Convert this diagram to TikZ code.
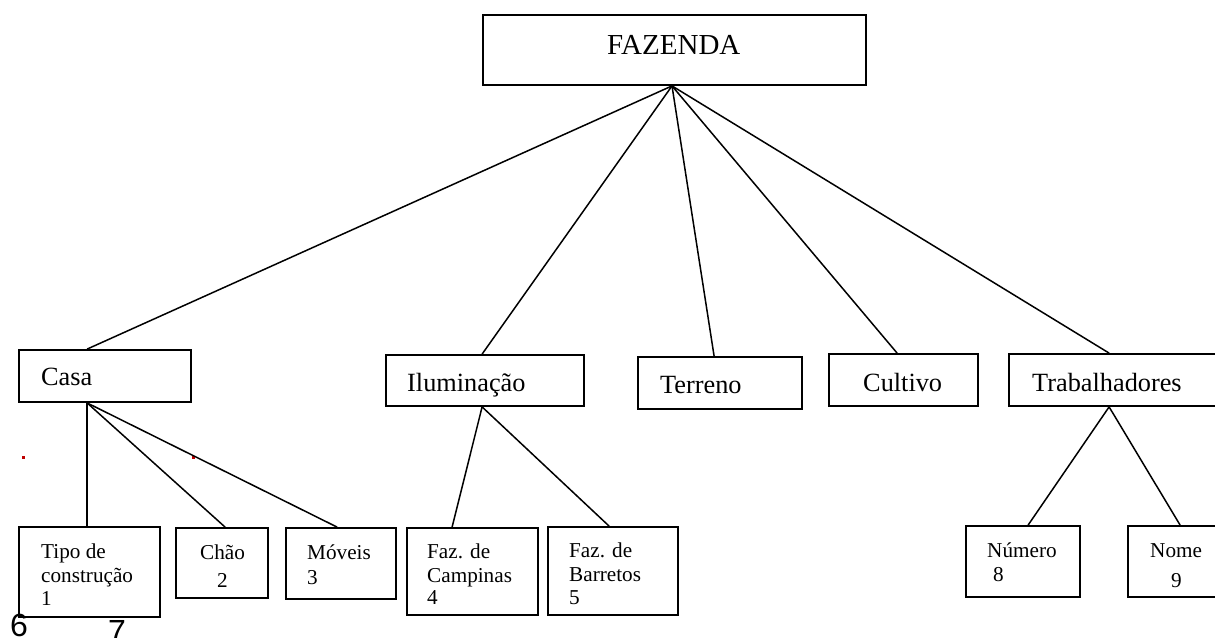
\documentclass[tikz,border=0pt]{standalone}
\usepackage{fontspec}
\setmainfont{Liberation Serif}
\newfontfamily\arialf{Liberation Sans}
\begin{document}
\begin{tikzpicture}[x=1pt,y=-1pt,
  box/.style={draw, line width=1.8pt, rectangle, inner sep=0pt},
  conn/.style={line width=1.5pt},
  big/.style={anchor=base west, inner sep=0pt, font=\fontsize{26.3}{30}\selectfont},
  title/.style={anchor=base west, inner sep=0pt, font=\fontsize{29}{32}\selectfont},
  small/.style={anchor=base west, inner sep=0pt, font=\fontsize{21.2}{24}\selectfont},
  digit/.style={anchor=base west, inner sep=0pt, font=\arialf\fontsize{32}{36}\selectfont},
  reddot/.style={fill=red!75!black, inner sep=0pt, minimum size=3pt, rectangle}
]
\useasboundingbox (0,0) rectangle (1215,637);
\clip (0,0) rectangle (1215,637);
\fill[white] (0,0) rectangle (1215,637);

% boxes
\node[box, minimum width=383pt, minimum height=70pt] (faz) at (674.5,50) {};
\node[box, minimum width=172pt, minimum height=52pt] (casa) at (105,376) {};
\node[box, minimum width=198pt, minimum height=51pt] (ilum) at (485,380.5) {};
\node[box, minimum width=164pt, minimum height=52pt] (terreno) at (720,383) {};
\node[box, minimum width=149pt, minimum height=52pt] (cultivo) at (903.5,380) {};
\node[box, minimum width=216pt, minimum height=52pt] (trab) at (1117,380) {};
\node[box, minimum width=141pt, minimum height=90pt] (tipo) at (89.5,572) {};
\node[box, minimum width=92pt, minimum height=70pt] (chao) at (222,563) {};
\node[box, minimum width=110pt, minimum height=71pt] (moveis) at (341,563.5) {};
\node[box, minimum width=131pt, minimum height=87pt] (camp) at (472.5,571.5) {};
\node[box, minimum width=130pt, minimum height=88pt] (barr) at (613,571) {};
\node[box, minimum width=114pt, minimum height=71pt] (numero) at (1023,561.5) {};
\node[box, minimum width=102pt, minimum height=71pt] (nome) at (1179,561.5) {};

% texts
\node[title] (tfaz) at (607,54) {FAZENDA};
\node[big] (tcasa) at (41,385) {Casa};
\node[big] (tilum) at (407,391) {Iluminação};
\node[big] (tterreno) at (660,393) {Terreno};
\node[big] (tcultivo) at (863,391) {Cultivo};
\node[big] (ttrab) at (1032,391) {Trabalhadores};

\node[small] (ttipo1) at (41,558) {Tipo de};
\node[small] (ttipo2) at (41,582) {construção};
\node[small] (ttipo3) at (41,605) {1};
\node[small] (tchao1) at (200,559) {Chão};
\node[small] (tchao2) at (217,587) {2};
\node[small] (tmov1) at (307,559) {Móveis};
\node[small] (tmov2) at (307,584) {3};
\node[small] (tcamp1) at (427,558) {Faz. de};
\node[small] (tcamp2) at (427,582) {Campinas};
\node[small] (tcamp3) at (427,604) {4};
\node[small] (tbarr1) at (569,557) {Faz. de};
\node[small] (tbarr2) at (569,581) {Barretos};
\node[small] (tbarr3) at (569,604) {5};
\node[small] (tnum1) at (987,557) {Número};
\node[small] (tnum2) at (993,581) {8};
\node[small] (tnome1) at (1150,557) {Nome};
\node[small] (tnome2) at (1171,587) {9};

\node[digit] (six) at (10,636) {6};
\node[digit] (seven) at (108,642) {7};

% red dots
\node[reddot] (rd1) at (23.5,457.5) {};
\node[reddot] (rd2) at (193,457.5) {};

% connectors from FAZENDA
\coordinate (apex) at ([xshift=-2.5pt]faz.south);
\draw[conn] (apex) -- ([xshift=69pt]casa.north west);
\draw[conn] (apex) -- ([xshift=97pt]ilum.north west);
\draw[conn] (apex) -- ([xshift=77pt]terreno.north west);
\draw[conn] (apex) -- ([xshift=69pt]cultivo.north west);
\draw[conn] (apex) -- ([xshift=101pt]trab.north west);

% Casa children
\coordinate (casab) at ([xshift=69pt]casa.south west);
\draw[conn] (casab) -- ([xshift=69pt]tipo.north west);
\draw[conn] (casab) -- ([xshift=50pt]chao.north west);
\draw[conn] (casab) -- ([xshift=52pt]moveis.north west);

% Iluminacao children
\coordinate (ilumb) at ([xshift=97pt]ilum.south west);
\draw[conn] (ilumb) -- ([xshift=46pt]camp.north west);
\draw[conn] (ilumb) -- ([xshift=62pt]barr.north west);

% Trabalhadores children
\coordinate (trabb) at ([xshift=101pt]trab.south west);
\draw[conn] (trabb) -- ([xshift=63pt]numero.north west);
\draw[conn] (trabb) -- ([xshift=53pt]nome.north west);
\end{tikzpicture}
\end{document}
